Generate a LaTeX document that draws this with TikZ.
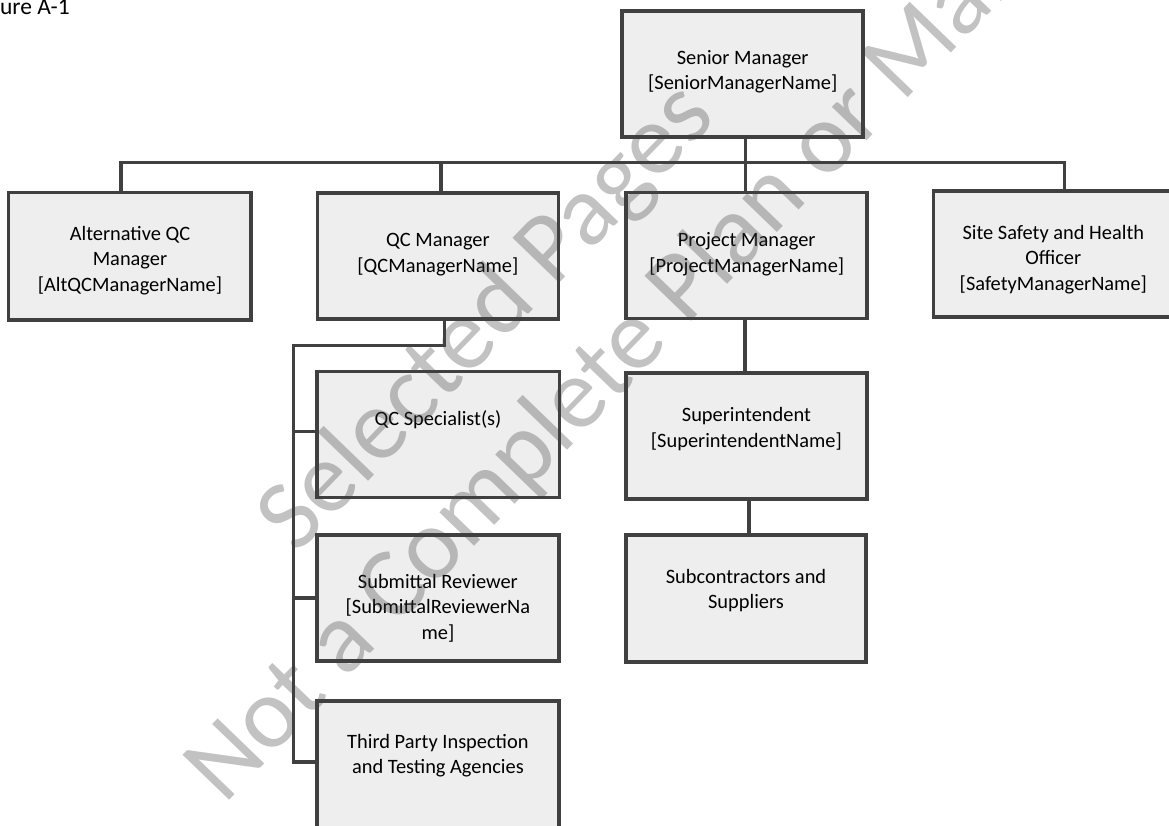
\documentclass[tikz,border=0pt]{standalone}
\usepackage{fontspec}
\setmainfont{Carlito}
\usetikzlibrary{calc}
\definecolor{boxline}{HTML}{404040}
\definecolor{boxfill}{HTML}{EEEEEE}
\definecolor{wmark}{HTML}{414141}
\tikzset{
  orgbox/.style={draw=boxline, fill=boxfill, line width=3.5pt, rectangle, inner sep=0pt,
    minimum width=241pt, minimum height=126pt},
  boxtext/.style={inner sep=0pt, text width=236pt, align=flush center, anchor=base,
    font=\fontsize{20.4}{25.5}\selectfont, text=black},
  conn/.style={draw=boxline, line width=3.3pt, line join=miter},
  wm/.style={inner sep=0pt, anchor=base west, rotate=46, text=wmark, text opacity=0.32,
    font=\fontsize{101}{120}\selectfont}
}
\begin{document}
\begin{tikzpicture}[x=1pt,y=-1pt]
\useasboundingbox (0,0) rectangle (1169,825);
\clip (0,0) rectangle (1169,825);

% label
\node[inner sep=0pt, anchor=base east, font=\fontsize{23.5}{28}\selectfont] (fig) at (70,14.5) {ure A-1};

% boxes
\node[orgbox] (senior) at (742.7,73.9) {};
\node[orgbox, minimum width=242.3pt, minimum height=127.7pt] (alt) at (129.6,256.2) {};
\node[orgbox] (qcm) at (437.9,255.8) {};
\node[orgbox] (pm) at (746.7,255.4) {};
\node[orgbox, minimum width=240pt] (site) at (1053.3,253.8) {};
\node[orgbox, minimum width=242.5pt] (qcs) at (438,434.7) {};
\node[orgbox, minimum width=242.3pt] (sub) at (437.9,597.9) {};
\node[orgbox, minimum width=242.3pt, minimum height=130pt] (tpa) at (437.9,766) {};
\node[orgbox, minimum width=240.7pt] (sup) at (746.4,436) {};
\node[orgbox, minimum width=240pt, minimum height=126.7pt] (subc) at (746,598.4) {};

% connector coordinates
\coordinate (busL) at (121,162.3);
\coordinate (busR) at (1064.3,162.3);
\coordinate (qcx) at (441,162.3);
\coordinate (smx) at (745.3,162.3);
\coordinate (qcb) at (444.3,345.7);
\coordinate (qcl) at (293.7,345.7);
\coordinate (br1) at (293.7,431.7);
\coordinate (br2) at (293.7,598);
\coordinate (br3) at (293.7,762);
\coordinate (pmx) at (745,0);
\coordinate (supx) at (749,0);

% connectors
\draw[conn] (busL |- alt.north) -- (busL) -- (busR) -- (busR |- site.north);
\draw[conn] (qcx) -- (qcx |- qcm.north);
\draw[conn] (smx |- senior.south) -- (smx |- pm.north);
\draw[conn] (qcb |- qcm.south) -- (qcb) -- (qcl) -- (br3) -- (br3 -| tpa.west);
\draw[conn] (br1) -- (br1 -| qcs.west);
\draw[conn] (br2) -- (br2 -| sub.west);
\draw[conn] (pmx |- pm.south) -- (pmx |- sup.north);
\draw[conn] (supx |- sup.south) -- (supx |- subc.north);

% box texts
\node[boxtext] (tsenior) at (742.7,64) {Senior Manager\\{}[SeniorManagerName]};
\node[boxtext] (talt) at (130,240) {Alternative QC\\Manager\\{}[AltQCManagerName]};
\node[boxtext] (tqcm) at (437.9,246.7) {QC Manager\\{}[QCManagerName]};
\node[boxtext] (tpm) at (746.7,246.7) {Project Manager\\{}[ProjectManagerName]};
\node[boxtext] (tsite) at (1053.3,239.3) {Site Safety and Health\\Officer\\{}[SafetyManagerName]};
\node[boxtext] (tqcs) at (438,425) {QC Specialist(s)};
\node[boxtext] (tsub) at (437.9,588.3) {Submittal Reviewer\\{}[SubmittalReviewerNa\\me]};
\node[boxtext] (ttpa) at (437.9,748.3) {Third Party Inspection\\and Testing Agencies};
\node[boxtext] (tsup) at (746.4,421.7) {Superintendent\\{}[SuperintendentName]};
\node[boxtext] (tsubc) at (746,583.3) {Subcontractors and\\Suppliers};

% watermark
\node[wm] (wm1) at (296,556) {Selected Pages};
\node[wm] (wm2) at (224,806) {Not a Complete Plan or Manual};
\end{tikzpicture}
\end{document}
